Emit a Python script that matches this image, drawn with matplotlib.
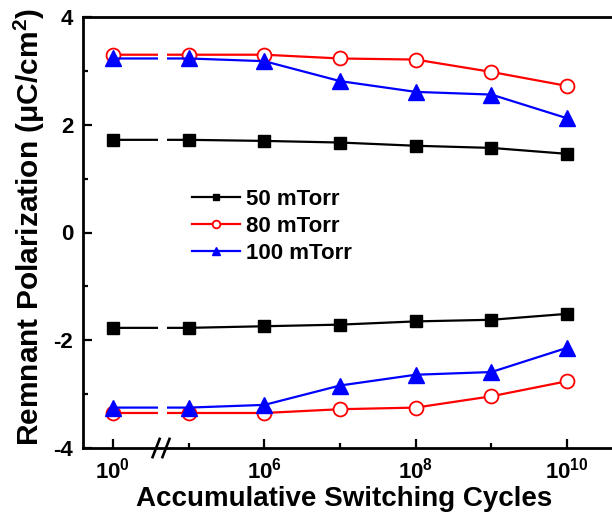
import matplotlib
matplotlib.use('Agg')
import matplotlib.pyplot as plt
from matplotlib.ticker import FixedLocator, MultipleLocator

plt.rcParams['font.family'] = ['Liberation Sans', 'DejaVu Sans']
plt.rcParams['font.weight'] = 'bold'
plt.rcParams['mathtext.fontset'] = 'custom'
plt.rcParams['mathtext.rm'] = 'Liberation Sans:bold'
plt.rcParams['mathtext.bf'] = 'Liberation Sans:bold'
plt.rcParams['mathtext.it'] = 'Liberation Sans:bold:italic'

# switching cycles (powers of ten); the axis is broken between 10^0 and 10^5
cycle_exponents = [0, 5, 6, 7, 8, 9, 10]
labeled_exponents = [0, 6, 8, 10]

# remnant polarization (uC/cm^2), positive and negative branches
pr_50_pos = [1.72, 1.72, 1.70, 1.67, 1.61, 1.57, 1.46]
pr_50_neg = [-1.77, -1.77, -1.74, -1.71, -1.65, -1.62, -1.51]
pr_80_pos = [3.30, 3.30, 3.30, 3.23, 3.21, 2.98, 2.72]
pr_80_neg = [-3.35, -3.35, -3.35, -3.28, -3.25, -3.04, -2.76]
pr_100_pos = [3.23, 3.23, 3.18, 2.81, 2.61, 2.56, 2.12]
pr_100_neg = [-3.25, -3.25, -3.20, -2.84, -2.64, -2.59, -2.14]

series_labels = ['50 mTorr', '80 mTorr', '100 mTorr']

fig = plt.figure(figsize=(6.12, 5.17), dpi=100)
ax = fig.add_axes([83 / 612, 69 / 517, 547 / 612, 431 / 517])

xpos = list(range(len(cycle_exponents)))

styles = [
    dict(color='black', marker='s', markersize=9, markerfacecolor='black',
         markeredgecolor='black'),
    dict(color='red', marker='o', markersize=10, markerfacecolor='white',
         markeredgecolor='red', markeredgewidth=1.3),
    dict(color='blue', marker='^', markersize=11.5, markerfacecolor='blue',
         markeredgecolor='blue'),
]
branches = [(pr_50_pos, pr_50_neg), (pr_80_pos, pr_80_neg), (pr_100_pos, pr_100_neg)]

handles = []
for (pos, neg), st, lab in zip(branches, styles, series_labels):
    h, = ax.plot(xpos, pos, lw=1.6, label=lab, zorder=2, **st)
    ax.plot(xpos, neg, lw=1.6, zorder=2, **st)
    handles.append(h)

# gap in the traces at the axis break
ax.axvspan(0.59, 0.72, ymin=0.01, ymax=0.99, color='white', lw=0, zorder=2.2)

# break marks on the bottom axis
tr = ax.get_xaxis_transform()
for c in (0.57, 0.70):
    ax.plot([c - 0.053, c + 0.053], [-0.024, 0.024], color='black', lw=1.9,
            transform=tr, clip_on=False, zorder=6, solid_capstyle='butt')

ax.set_xlim(-0.396, 6.83)
ax.set_ylim(-4, 4)

major_pos = [cycle_exponents.index(e) for e in labeled_exponents]
minor_pos = [p for p in xpos if p not in major_pos]
ax.xaxis.set_major_locator(FixedLocator(major_pos))
ax.xaxis.set_minor_locator(FixedLocator(minor_pos))
ax.set_xticklabels([r'$\mathbf{10^{%d}}$' % e for e in labeled_exponents])
ax.set_yticks([-4, -2, 0, 2, 4])
ax.set_yticklabels(['-4', '-2', '0', '2', '4'])
ax.yaxis.set_minor_locator(MultipleLocator(1))

ax.tick_params(which='major', direction='in', length=6.5, width=1.6,
               labelsize=16, top=False, right=False)
ax.tick_params(which='minor', direction='in', length=3.6, width=1.6,
               top=False, right=False)
ax.tick_params(axis='y', which='major', pad=7)
ax.tick_params(axis='x', which='major', pad=7)

for side in ('left', 'bottom', 'top'):
    ax.spines[side].set_linewidth(2.0)
ax.spines['right'].set_visible(False)

ax.set_xlabel('Accumulative Switching Cycles', fontsize=20, fontweight='bold')
ax.xaxis.set_label_coords(0.477, -0.088)
ax.set_ylabel(r'Remnant Polarization ($\mathbf{\mu}$C/cm$^{\mathbf{2}}$)',
              fontsize=21.5, fontweight='bold')
ax.yaxis.set_label_coords(-0.066, 0.514)

leg = ax.legend(handles=handles, loc='upper left', bbox_to_anchor=(0.199, 0.602),
                frameon=False, fontsize=16, handlelength=2.15, handletextpad=0.3,
                labelspacing=0.28, borderaxespad=0, borderpad=0, markerscale=0.55)

fig.savefig('out.png', dpi=100)
